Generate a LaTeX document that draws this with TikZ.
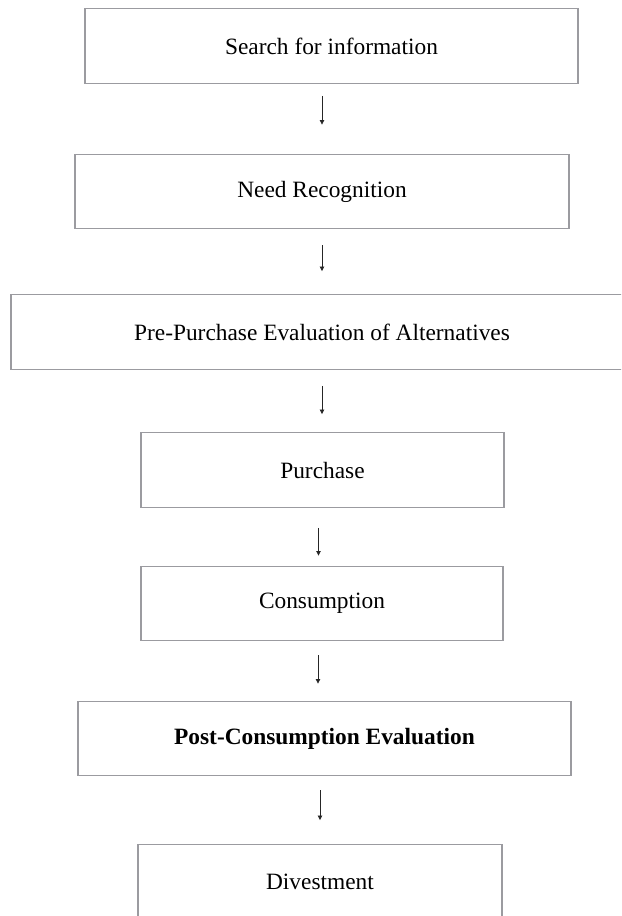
\documentclass[tikz,border=0pt]{standalone}
\usepackage{fontspec}
\setmainfont{Liberation Serif}
\usetikzlibrary{arrows.meta}
\definecolor{boxgray}{RGB}{155,155,160}
\tikzset{
    stage/.style={draw=boxgray, line width=0.8pt, minimum height=14.9mm, inner sep=0pt,
        font=\fontsize{13.3}{16}\selectfont},
    flow/.style={-{Triangle[length=0.9mm, width=0.9mm]}, line width=0.45pt, black!85}
}
\begin{document}
\begin{tikzpicture}[x=0.2mm, y=-0.2mm]
    \clip (0, 0) rectangle (621, 916);

    % Nodes
    \node at (331.5, 46) (search) [stage, minimum width=98.6mm] {Search for information};
    \node at (322, 191.5) (need) [stage, minimum width=98.8mm] {Need Recognition};
    \node at (322, 332) (prepurchase) [stage, minimum width=124.4mm] {Pre-Purchase Evaluation of Alternatives};
    \node at (322.5, 470) (purchase) [stage, minimum width=72.6mm] {Purchase};
    \node at (322, 603.5) (consumption) [stage, minimum width=72.4mm] {Consumption};
    \node at (324.5, 738.5) (postconsumption) [stage, minimum width=98.6mm] {\bfseries Post-Consumption Evaluation};
    \node at (320, 882) (divestment) [stage, minimum width=72.8mm] {Divestment};

    % Arrows
    \draw[flow, shorten <=2.4mm, shorten >=5.8mm] (search.south -| need.north) -- (need.north);
    \draw[flow, shorten <=3.2mm, shorten >=4.6mm] (need.south) -- (prepurchase.north);
    \draw[flow, shorten <=3.2mm, shorten >=3.6mm] (prepurchase.south) -- (prepurchase.south |- purchase.north);
    \draw[flow, shorten <=4mm, shorten >=2mm] ([xshift=-0.8mm]purchase.south) -- ([xshift=-0.8mm]purchase.south |- consumption.north);
    \draw[flow, shorten <=2.8mm, shorten >=3.4mm] ([xshift=-0.8mm]consumption.south) -- ([xshift=-0.8mm]consumption.south |- postconsumption.north);
    \draw[flow, shorten <=2.8mm, shorten >=4.8mm] (postconsumption.south -| divestment.north) -- (divestment.north);
\end{tikzpicture}
\end{document}
